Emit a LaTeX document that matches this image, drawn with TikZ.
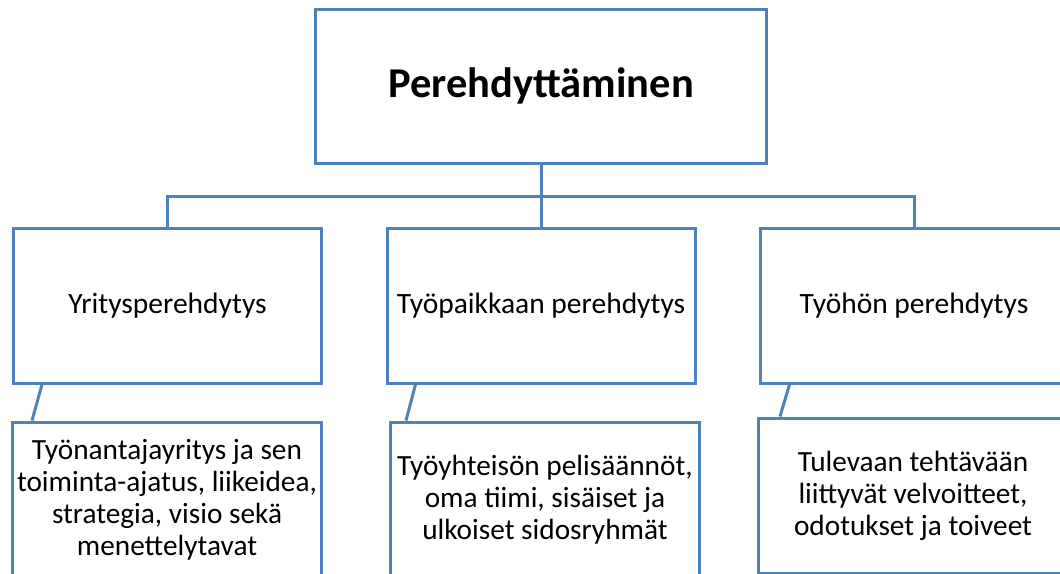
\documentclass[tikz,border=0pt]{standalone}
\usepackage{fontspec}
\setmainfont{Carlito}
\definecolor{boxblue}{HTML}{4F81BD}
\begin{document}
\begin{tikzpicture}[x=1pt,y=-1pt,
  box/.style={draw=boxblue,line width=3pt,fill=white,inner sep=0pt,
    align=center,text=black},
  rootbox/.style={box,minimum width=451pt,minimum height=154pt,
    font=\fontsize{42.5}{46}\selectfont\bfseries},
  areabox/.style={box,minimum width=308pt,minimum height=155pt,
    font=\fontsize{29.5}{32}\selectfont},
  detailbox/.style={box,minimum width=309pt,minimum height=155pt,
    font=\fontsize{29.3}{32}\selectfont},
  link/.style={draw=boxblue,line width=3pt}]
\useasboundingbox (0,0) rectangle (1060,573);
\clip (0,0) rectangle (1060,573);

% root
\node[rootbox] (root) at (541,86) {Perehdyttäminen};

% second level
\node[areabox] (yritys) at (167.5,305.5) {Yritysperehdytys};
\node[areabox] (paikka) at (541,305.5) {Työpaikkaan perehdytys};
\node[areabox] (tyo) at (914,305.5) {Työhön perehdytys};

% third level
\node[detailbox] (d1) at (167,499.5) {Työnantajayritys ja sen\\toiminta-ajatus, liikeidea,\\strategia, visio sekä\\menettelytavat};
\node[detailbox] (d2) at (545,499.5) {Työyhteisön pelisäännöt,\\oma tiimi, sisäiset ja\\ulkoiset sidosryhmät};
\node[detailbox] (d3) at (913,495.5) {Tulevaan tehtävään\\liittyvät velvoitteet,\\odotukset ja toiveet};

% tree connectors
\coordinate (bar) at (541,196);
\draw[link] (root.south) -- (bar);
\draw[link] (yritys.north) |- (bar) -| (tyo.north);
\draw[link] (bar) -- (paikka.north);

% links to details
\draw[link] ([xshift=30pt]yritys.south west) -- ([xshift=21pt]d1.north west);
\draw[link] ([xshift=30pt]paikka.south west) -- ([xshift=17pt]d2.north west);
\draw[link] ([xshift=31pt]tyo.south west) -- ([xshift=23pt]d3.north west);
\end{tikzpicture}
\end{document}
